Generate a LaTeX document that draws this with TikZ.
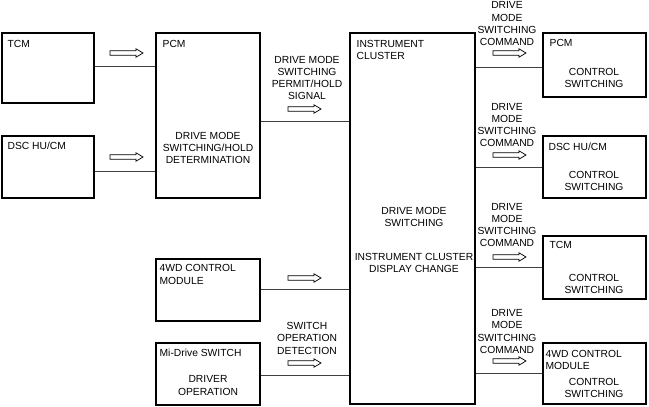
\documentclass[tikz,border=0pt]{standalone}
\usepackage{fontspec}
\setmainfont{Liberation Sans}
\usetikzlibrary{positioning}
\tikzset{
	fat/.pic={
		\draw [pic actions] (0,-2.3) -- (26,-2.3) -- (26,-4.2) -- (33,0) -- (26,4.2) -- (26,2.3) -- (0,2.3) -- cycle;
	},
	unit/.style={draw,line width=1.1pt,inner sep=0pt},
	link/.style={draw,black!75,line width=0.6pt},
	txt/.style={inner sep=0pt,align=center,anchor=north},
	tag/.style={inner sep=0pt,align=left}
}

\begin{document}
\begin{tikzpicture}[x=1pt,y=-1pt,font=\fontsize{10.3}{12.2}\selectfont,every pic/.style={line width=0.7pt}]
	\useasboundingbox (0,0) rectangle (649,407);

	\node[unit,minimum width=92pt,minimum height=70pt]	(tcm) at (48,68) {};
	\node[unit,minimum width=92pt,minimum height=62pt]	(dsc) at (48,167) {};
	\node[unit,minimum width=104pt,minimum height=165pt]	(pcm) at (208,115.5) {};
	\node[unit,minimum width=104pt,minimum height=62pt]	(fwd) at (208,290) {};
	\node[unit,minimum width=104pt,minimum height=62pt]	(mid) at (208,374) {};
	\node[unit,minimum width=125pt,minimum height=371pt]	(ic) at (412.5,218.5) {};
	\node[unit,minimum width=103pt,minimum height=64pt]	(rpcm) at (594.5,65) {};
	\node[unit,minimum width=103pt,minimum height=62pt]	(rdsc) at (594.5,167) {};
	\node[unit,minimum width=103pt,minimum height=63pt]	(rtcm) at (594.5,267.5) {};
	\node[unit,minimum width=103pt,minimum height=61pt]	(rfwd) at (594.5,373.5) {};

	\node[tag,below right=7.4pt and 6pt of tcm.north west]	(tcmtag) {TCM};
	\node[tag,below right=6pt and 6pt of dsc.north west]	(dsctag) {DSC HU/CM};
	\node[tag,below right=7.4pt and 7pt of pcm.north west]	(pcmtag) {PCM};
	\node[tag,below right=6pt and 4pt of fwd.north west]	(fwdtag) {4WD CONTROL\\MODULE};
	\node[tag,below right=6pt and 4pt of mid.north west]	(midtag) {Mi-Drive SWITCH};
	\node[tag,below right=7.6pt and 7pt of ic.north west]	(ictag) {INSTRUMENT\\CLUSTER};
	\node[tag,below right=6.8pt and 7pt of rpcm.north west]	(rpcmtag) {PCM};
	\node[tag,below right=7pt and 6pt of rdsc.north west]	(rdsctag) {DSC HU/CM};
	\node[tag,below right=6pt and 7pt of rtcm.north west]	(rtcmtag) {TCM};
	\node[tag,below right=7.6pt and 3pt of rfwd.north west]	(rfwdtag) {4WD CONTROL\\MODULE};

	\node[txt] (pcmtxt) at (208,131.9)	{DRIVE MODE\\SWITCHING/HOLD\\DETERMINATION};
	\node[txt] (midtxt) at (208,375.7)	{DRIVER\\OPERATION};
	\node[txt] (ictxt) at (414,207.4)	{DRIVE MODE\\SWITCHING};
	\node[txt] (icdisp) at (414,253.4)	{INSTRUMENT CLUSTER\\DISPLAY CHANGE};
	\node[txt] (sigpcm) at (307,55.9)	{DRIVE MODE\\SWITCHING\\PERMIT/HOLD\\SIGNAL};
	\node[txt] (sigmid) at (307,322.4)	{SWITCH\\OPERATION\\DETECTION};
	\node[txt] (cmdpcm) at (507,1.7)	{DRIVE\\MODE\\SWITCHING\\COMMAND};
	\node[txt] (cmddsc) at (507,103.1)	{DRIVE\\MODE\\SWITCHING\\COMMAND};
	\node[txt] (cmdtcm) at (507,203.1)	{DRIVE\\MODE\\SWITCHING\\COMMAND};
	\node[txt] (cmdfwd) at (507,309.4)	{DRIVE\\MODE\\SWITCHING\\COMMAND};
	\node[txt] (ctlpcm) at (594,68.4)	{CONTROL\\SWITCHING};
	\node[txt] (ctldsc) at (594,171.1)	{CONTROL\\SWITCHING};
	\node[txt] (ctltcm) at (594,274.1)	{CONTROL\\SWITCHING};
	\node[txt] (ctlfwd) at (594,378.1)	{CONTROL\\SWITCHING};

	\path[link] (tcm.east |- 0,66) -- (pcm.west |- 0,66);
	\path[link] (dsc.east |- 0,171) -- (pcm.west |- 0,171);
	\path[link] (pcm.east |- 0,121) -- (ic.west |- 0,121);
	\path[link] (fwd.east |- 0,289) -- (ic.west |- 0,289);
	\path[link] (mid.east |- 0,375) -- (ic.west |- 0,375);
	\path[link] (ic.east |- 0,67) -- (rpcm.west |- 0,67);
	\path[link] (ic.east |- 0,167) -- (rdsc.west |- 0,167);
	\path[link] (ic.east |- 0,267) -- (rtcm.west |- 0,267);
	\path[link] (ic.east |- 0,373) -- (rfwd.west |- 0,373);

	\pic at (110,53) {fat};
	\pic at (110,157) {fat};
	\pic at (288,109) {fat};
	\pic at (288,278) {fat};
	\pic at (288,363) {fat};
	\pic at (493,53) {fat};
	\pic at (493,155) {fat};
	\pic at (493,257) {fat};
	\pic at (493,361) {fat};
\end{tikzpicture}
\end{document}
